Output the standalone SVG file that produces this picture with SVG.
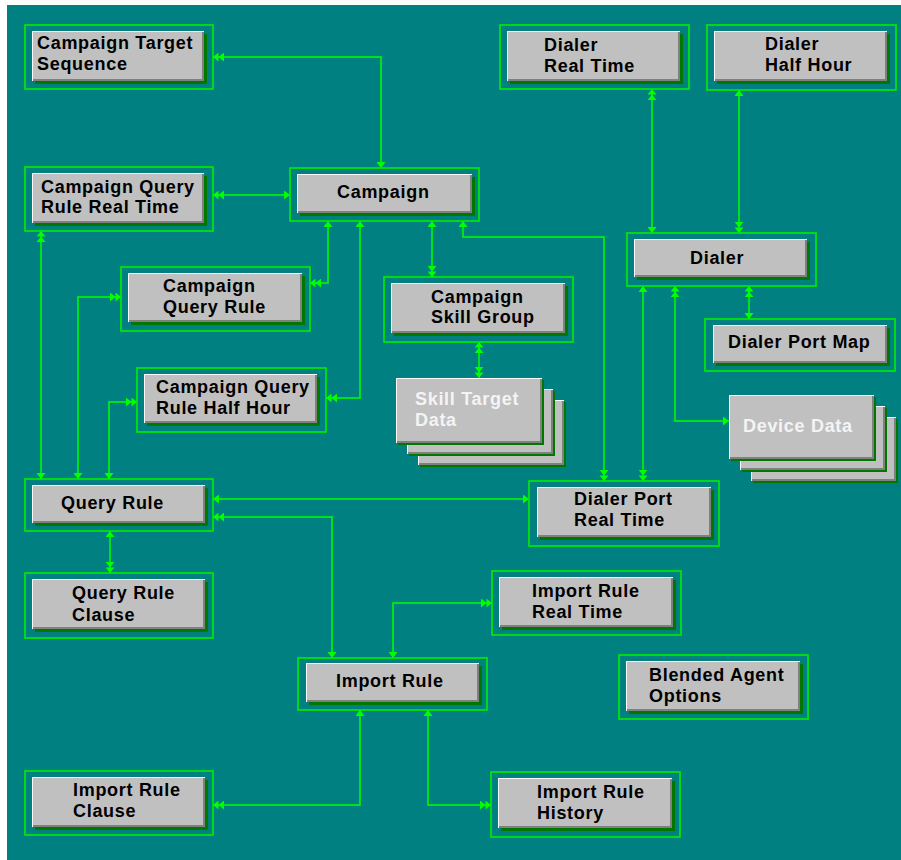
<svg xmlns="http://www.w3.org/2000/svg" width="901" height="860" viewBox="0 0 901 860">
<style>
.ol{fill:none;stroke:#00ee00;stroke-width:1.6}
.sh{fill:#007800}
.bx{fill:#c0c0c0}
.hi{fill:none;stroke:#ffffff;stroke-width:1}
.lo{fill:none;stroke:#808080;stroke-width:2}
.t{font-family:"Liberation Sans",Arial,sans-serif;font-weight:bold;font-size:18px;letter-spacing:0.7px;fill:#000}
.w{fill:#f4f4f4}
.cn{fill:none;stroke:#00ff00;stroke-width:1.5}
</style>
<defs>
<marker id="s" viewBox="0 0 6 9" refX="6" refY="4.5" markerWidth="6" markerHeight="9" markerUnits="userSpaceOnUse" orient="auto-start-reverse"><path d="M6,4.5 L0,0 L0,9 Z" fill="#00ff00"/></marker>
<marker id="d" viewBox="0 0 11 9" refX="11" refY="4.5" markerWidth="11" markerHeight="9" markerUnits="userSpaceOnUse" orient="auto-start-reverse"><path d="M11,4.5 L5.5,0 L5.5,9 Z M5.5,4.5 L0,0 L0,9 Z" fill="#00ff00"/></marker>
</defs>
<rect x="0" y="0" width="901" height="860" fill="#ffffff"/>
<rect x="7" y="5" width="894" height="855" fill="#008080"/>

<g id="connectors">
<polyline class="cn" points="213,57 381,57 381,168" marker-start="url(#d)" marker-end="url(#s)"/>
<polyline class="cn" points="213,195 290,195" marker-start="url(#d)" marker-end="url(#s)"/>
<polyline class="cn" points="41,231 41,479" marker-start="url(#d)" marker-end="url(#s)"/>
<polyline class="cn" points="328,221 328,283 310,283" marker-start="url(#s)" marker-end="url(#d)"/>
<polyline class="cn" points="360,221 360,398 326,398" marker-start="url(#s)" marker-end="url(#d)"/>
<polyline class="cn" points="432,221 432,277" marker-start="url(#s)" marker-end="url(#d)"/>
<polyline class="cn" points="463,221 463,237 604,237 604,481" marker-start="url(#s)" marker-end="url(#d)"/>
<polyline class="cn" points="479,342 479,378" marker-start="url(#d)" marker-end="url(#d)"/>
<polyline class="cn" points="652,89 652,233" marker-start="url(#d)" marker-end="url(#s)"/>
<polyline class="cn" points="739,90 739,233" marker-start="url(#s)" marker-end="url(#d)"/>
<polyline class="cn" points="749,286 749,319" marker-start="url(#d)" marker-end="url(#s)"/>
<polyline class="cn" points="643,286 643,481" marker-start="url(#s)" marker-end="url(#d)"/>
<polyline class="cn" points="675,286 675,421 729,421" marker-start="url(#d)" marker-end="url(#s)"/>
<polyline class="cn" points="121,297 78,297 78,479" marker-start="url(#d)" marker-end="url(#s)"/>
<polyline class="cn" points="137,402 109,402 109,479" marker-start="url(#d)" marker-end="url(#s)"/>
<polyline class="cn" points="213,499 529,499" marker-start="url(#s)" marker-end="url(#s)"/>
<polyline class="cn" points="213,517 332,517 332,658" marker-start="url(#d)" marker-end="url(#s)"/>
<polyline class="cn" points="110,531 110,573" marker-start="url(#s)" marker-end="url(#d)"/>
<polyline class="cn" points="393,658 393,603 492,603" marker-start="url(#s)" marker-end="url(#d)"/>
<polyline class="cn" points="360,710 360,805 213,805" marker-start="url(#s)" marker-end="url(#d)"/>
<polyline class="cn" points="428,710 428,805 491,805" marker-start="url(#s)" marker-end="url(#d)"/>
</g>

<g id="n-cts">
<rect class="ol" x="25" y="25" width="188" height="64"/>
<rect class="sh" x="35" y="34" width="172" height="50"/>
<rect class="bx" x="32" y="31" width="172" height="50"/>
<path class="lo" d="M203,32 V80 H33"/><path class="hi" d="M32.5,81 V31.5 H204"/>
<text class="t" x="37" y="49">Campaign Target</text><text class="t" x="37" y="70">Sequence</text>
</g>

<g id="n-cqrrt">
<rect class="ol" x="25" y="167" width="188" height="64"/>
<rect class="sh" x="35" y="176" width="172" height="50"/>
<rect class="bx" x="32" y="173" width="172" height="50"/>
<path class="lo" d="M203,174 V222 H33"/><path class="hi" d="M32.5,223 V173.5 H204"/>
<text class="t" x="41" y="193">Campaign Query</text><text class="t" x="41" y="213">Rule Real Time</text>
</g>

<g id="n-campaign">
<rect class="ol" x="290" y="168" width="189" height="53"/>
<rect class="sh" x="300" y="177" width="175" height="39"/>
<rect class="bx" x="297" y="174" width="175" height="39"/>
<path class="lo" d="M471,175 V212 H298"/><path class="hi" d="M297.5,213 V174.5 H472"/>
<text class="t" x="337" y="198">Campaign</text>
</g>

<g id="n-cqr">
<rect class="ol" x="121" y="267" width="189" height="64"/>
<rect class="sh" x="131" y="276" width="174" height="49"/>
<rect class="bx" x="128" y="273" width="174" height="49"/>
<path class="lo" d="M301,274 V321 H129"/><path class="hi" d="M128.5,322 V273.5 H302"/>
<text class="t" x="163" y="292">Campaign</text><text class="t" x="163" y="313">Query Rule</text>
</g>

<g id="n-csg">
<rect class="ol" x="384" y="277" width="189" height="65"/>
<rect class="sh" x="394" y="286" width="174" height="50"/>
<rect class="bx" x="391" y="283" width="174" height="50"/>
<path class="lo" d="M564,284 V332 H392"/><path class="hi" d="M391.5,333 V283.5 H565"/>
<text class="t" x="431" y="303">Campaign</text><text class="t" x="431" y="323">Skill Group</text>
</g>

<g id="n-cqrhh">
<rect class="ol" x="137" y="368" width="189" height="64"/>
<rect class="sh" x="147" y="377" width="173" height="49"/>
<rect class="bx" x="144" y="374" width="173" height="49"/>
<path class="lo" d="M316,375 V422 H145"/><path class="hi" d="M144.5,423 V374.5 H317"/>
<text class="t" x="156" y="393">Campaign Query</text><text class="t" x="156" y="414">Rule Half Hour</text>
</g>

<g id="n-std">
<rect class="sh" x="420" y="402" width="146" height="65"/>
<rect class="bx" x="418" y="400" width="146" height="65"/>
<path class="lo" d="M563,401 V464 H419"/><path class="hi" d="M418.5,465 V400.5 H564"/>
<rect class="sh" x="409" y="391" width="146" height="65"/>
<rect class="bx" x="407" y="389" width="146" height="65"/>
<path class="lo" d="M552,390 V453 H408"/><path class="hi" d="M407.5,454 V389.5 H553"/>
<rect class="sh" x="398" y="380" width="146" height="65"/>
<rect class="bx" x="396" y="378" width="146" height="65"/>
<path class="lo" d="M541,379 V442 H397"/><path class="hi" d="M396.5,443 V378.5 H542"/>
<text class="t w" x="415" y="405">Skill Target</text><text class="t w" x="415" y="426">Data</text>
</g>

<g id="n-qr">
<rect class="ol" x="25" y="479" width="188" height="52"/>
<rect class="sh" x="35" y="488" width="173" height="38"/>
<rect class="bx" x="32" y="485" width="173" height="38"/>
<path class="lo" d="M204,486 V522 H33"/><path class="hi" d="M32.5,523 V485.5 H205"/>
<text class="t" x="61" y="509">Query Rule</text>
</g>

<g id="n-qrc">
<rect class="ol" x="25" y="573" width="188" height="65"/>
<rect class="sh" x="35" y="582" width="173" height="50"/>
<rect class="bx" x="32" y="579" width="173" height="50"/>
<path class="lo" d="M204,580 V628 H33"/><path class="hi" d="M32.5,629 V579.5 H205"/>
<text class="t" x="72" y="599">Query Rule</text><text class="t" x="72" y="621">Clause</text>
</g>

<g id="n-drt">
<rect class="ol" x="500" y="25" width="189" height="64"/>
<rect class="sh" x="510" y="34" width="173" height="50"/>
<rect class="bx" x="507" y="31" width="173" height="50"/>
<path class="lo" d="M679,32 V80 H508"/><path class="hi" d="M507.5,81 V31.5 H680"/>
<text class="t" x="544" y="51">Dialer</text><text class="t" x="544" y="72">Real Time</text>
</g>

<g id="n-dhh">
<rect class="ol" x="707" y="25" width="189" height="65"/>
<rect class="sh" x="717" y="34" width="173" height="50"/>
<rect class="bx" x="714" y="31" width="173" height="50"/>
<path class="lo" d="M886,32 V80 H715"/><path class="hi" d="M714.5,81 V31.5 H887"/>
<text class="t" x="765" y="50">Dialer</text><text class="t" x="765" y="71">Half Hour</text>
</g>

<g id="n-dialer">
<rect class="ol" x="627" y="233" width="189" height="53"/>
<rect class="sh" x="637" y="242" width="173" height="38"/>
<rect class="bx" x="634" y="239" width="173" height="38"/>
<path class="lo" d="M806,240 V276 H635"/><path class="hi" d="M634.5,277 V239.5 H807"/>
<text class="t" x="690" y="264">Dialer</text>
</g>

<g id="n-dpm">
<rect class="ol" x="705" y="319" width="190" height="52"/>
<rect class="sh" x="716" y="328" width="174" height="38"/>
<rect class="bx" x="713" y="325" width="174" height="38"/>
<path class="lo" d="M886,326 V362 H714"/><path class="hi" d="M713.5,363 V325.5 H887"/>
<text class="t" x="728" y="348">Dialer Port Map</text>
</g>

<g id="n-dd">
<rect class="sh" x="753" y="419" width="145" height="64"/>
<rect class="bx" x="751" y="417" width="145" height="64"/>
<path class="lo" d="M895,418 V480 H752"/><path class="hi" d="M751.5,481 V417.5 H896"/>
<rect class="sh" x="742" y="408" width="145" height="64"/>
<rect class="bx" x="740" y="406" width="145" height="64"/>
<path class="lo" d="M884,407 V469 H741"/><path class="hi" d="M740.5,470 V406.5 H885"/>
<rect class="sh" x="731" y="397" width="145" height="64"/>
<rect class="bx" x="729" y="395" width="145" height="64"/>
<path class="lo" d="M873,396 V458 H730"/><path class="hi" d="M729.5,459 V395.5 H874"/>
<text class="t w" x="743" y="432">Device Data</text>
</g>

<g id="n-dprt">
<rect class="ol" x="529" y="481" width="190" height="65"/>
<rect class="sh" x="540" y="490" width="174" height="50"/>
<rect class="bx" x="537" y="487" width="174" height="50"/>
<path class="lo" d="M710,488 V536 H538"/><path class="hi" d="M537.5,537 V487.5 H711"/>
<text class="t" x="574" y="505">Dialer Port</text><text class="t" x="574" y="526">Real Time</text>
</g>

<g id="n-irrt">
<rect class="ol" x="492" y="571" width="189" height="64"/>
<rect class="sh" x="502" y="580" width="174" height="50"/>
<rect class="bx" x="499" y="577" width="174" height="50"/>
<path class="lo" d="M672,578 V626 H500"/><path class="hi" d="M499.5,627 V577.5 H673"/>
<text class="t" x="532" y="597">Import Rule</text><text class="t" x="532" y="618">Real Time</text>
</g>

<g id="n-ir">
<rect class="ol" x="298" y="658" width="189" height="52"/>
<rect class="sh" x="309" y="666" width="173" height="39"/>
<rect class="bx" x="306" y="663" width="173" height="39"/>
<path class="lo" d="M478,664 V701 H307"/><path class="hi" d="M306.5,702 V663.5 H479"/>
<text class="t" x="336" y="687">Import Rule</text>
</g>

<g id="n-bao">
<rect class="ol" x="619" y="655" width="189" height="64"/>
<rect class="sh" x="629" y="664" width="174" height="50"/>
<rect class="bx" x="626" y="661" width="174" height="50"/>
<path class="lo" d="M799,662 V710 H627"/><path class="hi" d="M626.5,711 V661.5 H800"/>
<text class="t" x="649" y="681">Blended Agent</text><text class="t" x="649" y="702">Options</text>
</g>

<g id="n-irc">
<rect class="ol" x="25" y="771" width="188" height="64"/>
<rect class="sh" x="35" y="780" width="173" height="50"/>
<rect class="bx" x="32" y="777" width="173" height="50"/>
<path class="lo" d="M204,778 V826 H33"/><path class="hi" d="M32.5,827 V777.5 H205"/>
<text class="t" x="73" y="796">Import Rule</text><text class="t" x="73" y="817">Clause</text>
</g>

<g id="n-irh">
<rect class="ol" x="491" y="772" width="189" height="65"/>
<rect class="sh" x="501" y="781" width="174" height="50"/>
<rect class="bx" x="498" y="778" width="174" height="50"/>
<path class="lo" d="M671,779 V827 H499"/><path class="hi" d="M498.5,828 V778.5 H672"/>
<text class="t" x="537" y="798">Import Rule</text><text class="t" x="537" y="819">History</text>
</g>
</svg>
